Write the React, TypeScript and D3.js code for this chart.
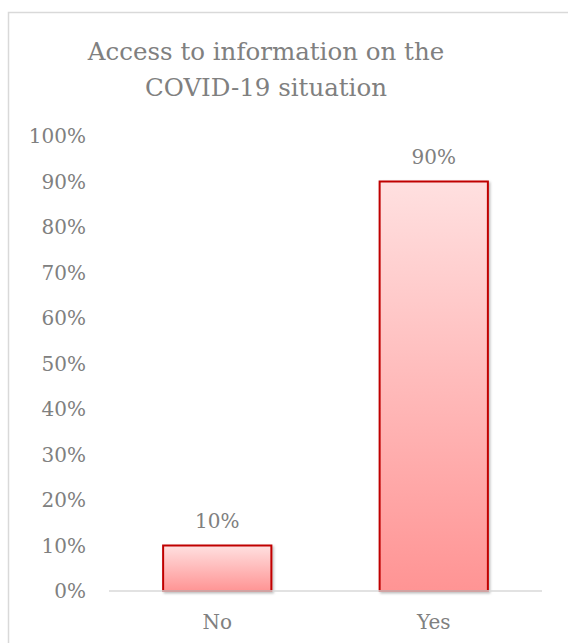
import React from "react";
import * as d3 from "d3";

const categories = ["No", "Yes"];
const values = [0.1, 0.9];
const yTicks = [0, 0.1, 0.2, 0.3, 0.4, 0.5, 0.6, 0.7, 0.8, 0.9, 1.0];
const titleLines = ["Access to information on the", "COVID-19 situation"];

const W = 568;
const H = 643;
const FONT = "'DejaVu Serif', serif";
const TEXT = "#808080";

export default function App() {
  const x = d3.scaleBand<string>().domain(categories).range([109, 542]).paddingInner(0.5).paddingOuter(0.25);
  const y = d3.scaleLinear().domain([0, 1]).range([591, 136]);
  const fmt = d3.format(".0%");
  return (
    <div style={{ position: "absolute", left: 0, top: 0 }}>
      <svg width={W} height={H} style={{ display: "block" }}>
        <defs>
          <linearGradient id="barGrad" x1="0" y1="0" x2="0" y2="1">
            <stop offset="0" stopColor="#ffe0e0" />
            <stop offset="1" stopColor="#ff9494" />
          </linearGradient>
          <filter id="shadow" x="-10%" y="-10%" width="130%" height="130%">
            <feDropShadow dx="1.5" dy="1.5" stdDeviation="1.2" floodColor="#000" floodOpacity="0.25" />
          </filter>
        </defs>
        <rect x={8.5} y={12.5} width={W} height={H} fill="#fff" stroke="#d9d9d9" strokeWidth={1.5} />
        {titleLines.map((t, i) => (
          <text key={t} x={266} y={60 + i * 36} textAnchor="middle" fontFamily={FONT} fontSize={24.5} fill={TEXT}>
            {t}
          </text>
        ))}
        {yTicks.map((t) => (
          <text key={t} x={86} y={y(t)} dy="0.35em" textAnchor="end" fontFamily={FONT} fontSize={20} fill={TEXT}>
            {fmt(t)}
          </text>
        ))}
        {categories.map((c, i) => (
          <g key={c}>
            <rect
              x={x(c)!}
              y={y(values[i])}
              width={x.bandwidth()}
              height={y(0) - y(values[i])}
              fill="url(#barGrad)"
              stroke="#c00000"
              strokeWidth={2}
              filter="url(#shadow)"
            />
            <text x={x(c)! + x.bandwidth() / 2} y={y(values[i]) - 25} dy="0.35em" textAnchor="middle" fontFamily={FONT} fontSize={20} fill={TEXT}>
              {fmt(values[i])}
            </text>
            <text x={x(c)! + x.bandwidth() / 2} y={622} dy="0.35em" textAnchor="middle" fontFamily={FONT} fontSize={20} fill={TEXT}>
              {c}
            </text>
          </g>
        ))}
        <line x1={109} x2={542} y1={y(0)} y2={y(0)} stroke="#d9d9d9" strokeWidth={1.5} />
      </svg>
    </div>
  );
}
